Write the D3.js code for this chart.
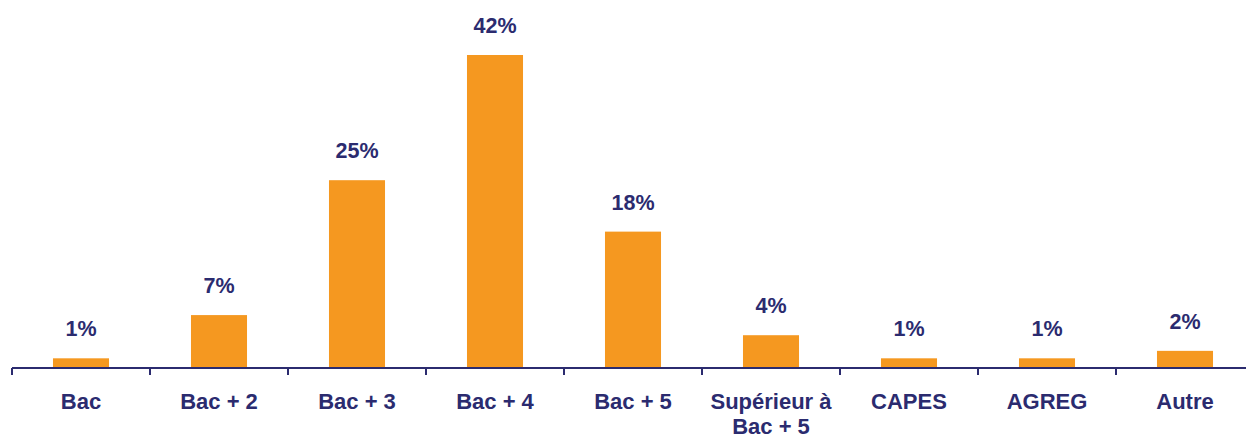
<!DOCTYPE html>
<html>
<head>
<meta charset="utf-8">
<script src="https://cdn.jsdelivr.net/npm/d3@7"></script>
<style>
  body { margin: 0; background: #fff; }
  svg { display: block; font-family: "Liberation Sans", Arial, sans-serif; }
  .value-label { font-weight: bold; font-size: 21.5px; fill: #2B2B6F; }
  .cat-label { font-weight: bold; font-size: 22px; fill: #2B2B6F; }
</style>
</head>
<body>
<div id="chart"></div>
<script>
const categories = ["Bac", "Bac + 2", "Bac + 3", "Bac + 4", "Bac + 5", "Supérieur à|Bac + 5", "CAPES", "AGREG", "Autre"];
const values = [1.3, 7.1, 25.2, 42.0, 18.3, 4.4, 1.3, 1.3, 2.3];
const valueLabels = ["1%", "7%", "25%", "42%", "18%", "4%", "1%", "1%", "2%"];

const width = 1246, height = 439;
const baseY = 368;
const navy = "#2B2B6F";
const orange = "#F59820";

const svg = d3.select("#chart").append("svg")
    .attr("width", width)
    .attr("height", height);

const x = d3.scaleBand()
    .domain(categories)
    .range([12, 12 + 9 * 138])
    .paddingInner(0.594)
    .paddingOuter(0.297);

const y = d3.scaleLinear()
    .domain([0, 42])
    .range([baseY, 55]);

// bars
svg.selectAll("rect.bar")
    .data(categories)
    .join("rect")
    .attr("class", "bar")
    .attr("x", d => x(d))
    .attr("width", x.bandwidth())
    .attr("y", (d, i) => y(values[i]))
    .attr("height", (d, i) => baseY - y(values[i]))
    .attr("fill", orange);

// value labels
svg.selectAll("text.value-label")
    .data(categories)
    .join("text")
    .attr("class", "value-label")
    .attr("text-anchor", "middle")
    .attr("x", d => x(d) + x.bandwidth() / 2)
    .attr("y", (d, i) => y(values[i]) - 22)
    .text((d, i) => valueLabels[i]);

// axis line + ticks at band boundaries
const step = x.step();
svg.append("line")
    .attr("x1", 12)
    .attr("x2", width)
    .attr("y1", baseY)
    .attr("y2", baseY)
    .attr("stroke", navy)
    .attr("stroke-width", 2);

svg.selectAll("line.tick")
    .data(d3.range(categories.length + 1))
    .join("line")
    .attr("class", "tick")
    .attr("x1", i => x.range()[0] + i * step)
    .attr("x2", i => x.range()[0] + i * step)
    .attr("y1", baseY)
    .attr("y2", baseY + 7)
    .attr("stroke", navy)
    .attr("stroke-width", 2);

// category labels
const catLabels = svg.selectAll("text.cat-label")
    .data(categories)
    .join("text")
    .attr("class", "cat-label")
    .attr("text-anchor", "middle")
    .attr("x", d => x(d) + x.bandwidth() / 2)
    .attr("y", 409);

catLabels.each(function (d) {
    const parts = d.split("|");
    const t = d3.select(this);
    parts.forEach((p, j) => {
        t.append("tspan")
            .attr("x", x(d) + x.bandwidth() / 2)
            .attr("dy", j === 0 ? 0 : 25)
            .text(p);
    });
});
</script>
</body>
</html>
